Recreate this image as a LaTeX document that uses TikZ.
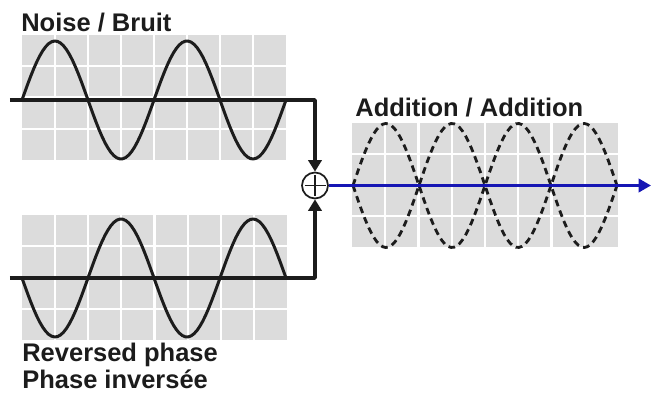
\documentclass[tikz,border=0pt]{standalone}
\usepackage{fontspec}
\setmainfont{Liberation Sans}
\usetikzlibrary{arrows.meta}
\definecolor{GridGray}{HTML}{DCDCDC}
\definecolor{InkBlack}{HTML}{1C1C1C}
\definecolor{SumBlue}{HTML}{1616B4}

\begin{document}
\begin{tikzpicture}[line cap=butt,line join=round,
    wave/.style={InkBlack,line width=1.7pt},
    wire/.style={InkBlack,line width=2pt},
    dashwave/.style={InkBlack,line width=1.6pt,dash pattern=on 3.8pt off 2.6pt},
    title/.style={font=\bfseries\fontsize{14.5}{15.5}\selectfont,text=InkBlack,inner sep=0pt}]
  \useasboundingbox (0,0) rectangle (13.18,7.88);
  % grids
  \foreach \gx/\gy/\gw/\gh in {0.44/4.68/5.28/2.5,0.44/1.08/5.30/2.5,7.04/2.94/5.32/2.48}{
    \fill[GridGray] (\gx,\gy) rectangle ++(\gw,\gh);
    \foreach \i in {1,...,7}
      \draw[white,line width=1.2pt] ({\gx+\i*\gw/8},\gy) -- ++(0,\gh);
    \foreach \j in {1,2,3}
      \draw[white,line width=1.2pt] (\gx,{\gy+\j*\gh/4}) -- ++(\gw,0);
  }
  % labels
  \node[title,anchor=base west] (noise) at (0.42,7.24) {Noise / Bruit};
  \node[title,anchor=base west] (addition) at (7.10,5.54) {Addition / Addition};
  \node[title,anchor=south west,align=left] (reversed) at (0.44,0.09) {Reversed phase\\Phase inversée};
  % summing point
  \node[circle,draw=InkBlack,line width=1pt,minimum size=0.52cm,inner sep=0pt,
        path picture={\draw[InkBlack,line width=1pt]
          ([xshift=-0.21cm]path picture bounding box.center) -- ([xshift=0.21cm]path picture bounding box.center)
          ([yshift=-0.21cm]path picture bounding box.center) -- ([yshift=0.21cm]path picture bounding box.center);}]
    (sum) at (6.30,4.17) {};
  \coordinate (topstart) at (0.2,5.88);
  \coordinate (botstart) at (0.2,2.32);
  \coordinate (outend) at (13.02,4.17);
  % waves
  \draw[wave] plot[domain=0:720,samples=90] ({0.44+\x/360*2.64},{5.88+1.18*sin(\x)});
  \draw[wave] plot[domain=0:720,samples=90] ({0.44+\x/360*2.64},{2.32-1.18*sin(\x)});
  \draw[dashwave] plot[domain=0:720,samples=90] ({7.06+\x/360*2.64},{4.17+1.24*sin(\x)});
  \draw[dashwave] plot[domain=0:720,samples=90] ({7.06+\x/360*2.64},{4.17-1.24*sin(\x)});
  % connectors
  \draw[wire,-{Triangle[length=6.5pt,width=7.5pt]}] (topstart) -| (sum);
  \draw[wire,-{Triangle[length=6.5pt,width=7.5pt]}] (botstart) -| (sum);
  \draw[SumBlue,line width=2.2pt,-{Triangle[length=7pt,width=7.5pt]}] (sum) -- (outend);
\end{tikzpicture}
\end{document}
